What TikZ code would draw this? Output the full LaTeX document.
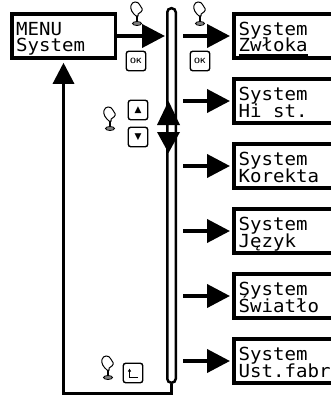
\documentclass[tikz,border=0pt]{standalone}
\usepackage{fontspec}
\usetikzlibrary{arrows.meta}
\newfontfamily\lcdfont[FakeStretch=1.06]{DejaVu Sans Mono}
\newfontfamily\keyfont{DejaVu Sans}

\begin{document}
\begin{tikzpicture}[x=1pt,y=-1pt,
        lcdbox/.style={draw,line width=3.5pt,minimum width=110pt,minimum height=44pt,inner sep=0pt},
        lcdtext/.style={anchor=base west,inner sep=0pt,font=\lcdfont\fontsize{18}{17}\selectfont},
        flow/.style={line width=4pt,-{Triangle[length=23pt,width=23pt]}},
        back/.style={line width=3pt,-{Triangle[length=21pt,width=21pt]}},
        keybox/.style={draw,line width=1.4pt,rounded corners=2.5pt,minimum size=19.5pt,inner sep=0pt},
        press/.pic={
            \draw [line width=1pt,fill=white] (-1,2) .. controls (-4.5,-1) and (-7,-4.5) .. (-6,-8.5)
                .. controls (-5,-13) and (1,-13) .. (2.5,-9.5) -- (5,-5.5) .. controls (6,-3) and (3,-1) .. (1.2,0) -- (1.2,2) -- cycle;
            \draw [line width=1.5pt] (0,2) -- (0,8);
            \draw [line width=0.8pt,fill=gray] (0,9.5) ellipse [x radius=4.5,y radius=2];
        }]
    \useasboundingbox (0,0) rectangle (331,396);
    \clip (0,0) rectangle (331,396);

    % menu entry
    \node [lcdbox,minimum width=103.5pt,anchor=west] (menu) at (10,36) {};
    \node [lcdtext] (menutop) at (16,35.5) {MENU};
    \node [lcdtext] (menubot) at (16,52) {System};

    % scroll bar
    \node [draw,line width=2.5pt,rounded corners=4pt,minimum width=8.5pt,minimum height=374.5pt,inner sep=0pt] (bar) at (171.5,195.5) {};
    \fill (168.5,101) -- (180,125) -- (157,125) -- cycle;
    \fill (168.5,153) -- (180,132) -- (157,132) -- cycle;
    \draw [flow,shorten >=1pt] (menu.east) -- (menu.east -| bar.west);
    \draw [back] (bar.south) -- ++(0,9) -| ([yshift=-3pt]menu.south);

    % submenu entries
    \foreach \txt [count=\i from 0] in {Zwłoka,Hi st.,Korekta,Język,Światło,Ust.fabr}{
        \node [lcdbox,anchor=west] (b\i) at (232,36+65*\i) {};
        \node [lcdtext] (t\i) at (238.5,35.5+65*\i) {System};
        \node [lcdtext] (s\i) at (238.5,52+65*\i) {\txt};
        \draw [flow,shorten <=6pt,shorten >=2pt] (bar.east |- b\i.west) -- (b\i.west);
    }
    \draw [line width=1.6pt] ([yshift=-3pt]s0.base west) -- ([yshift=-3pt]s0.base east);

    % keys
    \node [keybox,font=\sffamily\bfseries\fontsize{7.5}{7.5}\selectfont] (ok1) at (136,61) {OK};
    \node [keybox,font=\sffamily\bfseries\fontsize{7.5}{7.5}\selectfont] (ok2) at (200,61) {OK};
    \node [keybox,font=\keyfont\fontsize{9}{9}\selectfont] (up) at (138,110) {▲};
    \node [keybox,font=\keyfont\fontsize{9}{9}\selectfont] (down) at (138,137) {▼};
    \node [keybox] (enter) at (133,373) {};
    \draw [line width=1pt,-{Latex[length=3pt,width=3.5pt]}] ([xshift=5pt,yshift=-4.5pt]enter.center) -| ([xshift=-3.5pt,yshift=4.5pt]enter.center);

    % pressing hands
    \pic at (137,14) {press};
    \pic at (200,14) {press};
    \pic at (110,119) {press};
    \pic at (108,368) {press};
\end{tikzpicture}
\end{document}
